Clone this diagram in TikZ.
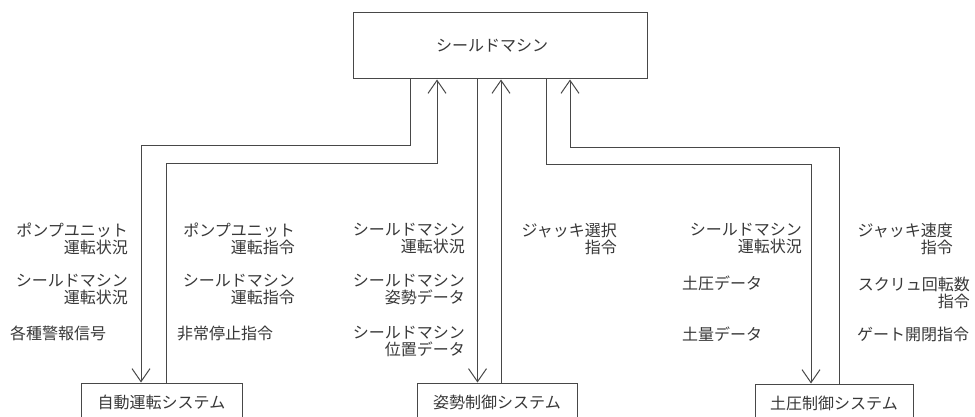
\documentclass[tikz,border=0pt]{standalone}
\usepackage{fontspec}
\newfontfamily\jp{Noto Sans CJK JP}
\usetikzlibrary{arrows.meta}
\definecolor{linec}{HTML}{484848}
\definecolor{txtc}{HTML}{383838}
\begin{document}
\begin{tikzpicture}[x=1pt,y=-1pt,
  box/.style={draw=linec, line width=1pt, inner sep=0, font=\jp\fontsize{16}{17}\selectfont, text=txtc},
  lbl/.style={inner sep=0, align=right, font=\jp\fontsize{16}{17}\selectfont, text=txtc},
  conn/.style={draw=linec, line width=1pt},
  arr/.style={conn, -{Straight Barb[length=13pt,width=18pt]}}]
\useasboundingbox (0,0) rectangle (975,417);
\clip (0,0) rectangle (975,417);
\fill[white] (0,0) rectangle (975,417);

\node[box, minimum width=294, minimum height=66] (top) at (500,46) {\hspace*{-16pt}シールドマシン};
\node[box, minimum width=161, minimum height=38] (auto) at (161.5,402) {自動運転システム};
\node[box, minimum width=160, minimum height=38] (att) at (497,402) {姿勢制御システム};
\node[box, minimum width=158, minimum height=38] (earth) at (834,403) {土圧制御システム};

% automatic operation
\coordinate (a1) at (410,146);
\coordinate (a2) at (141,146);
\draw[arr] (top.south -| a1) -- (a1) -- (a2) -- (auto.north -| a2);
\coordinate (b1) at (166,164);
\coordinate (b2) at (437,164);
\draw[arr] (auto.north -| b1) -- (b1) -- (b2) -- (top.south -| b2);
% attitude
\coordinate (c1) at (477.5,0);
\draw[arr] (top.south -| c1) -- (att.north -| c1);
\coordinate (c2) at (501,0);
\draw[arr] (att.north -| c2) -- (top.south -| c2);
% earth pressure
\coordinate (d1) at (546,165);
\coordinate (d2) at (811,165);
\draw[arr] (top.south -| d1) -- (d1) -- (d2) -- (earth.north -| d2);
\coordinate (e1) at (839,148);
\coordinate (e2) at (570,148);
\draw[arr] (earth.north -| e1) -- (e1) -- (e2) -- (top.south -| e2);

% labels column 1
\node[lbl, anchor=north east] (l11) at (128,223) {ポンプユニット\\運転状況};
\node[lbl, anchor=north east] (l12) at (128,274) {シールドマシン\\運転状況};
\node[lbl, anchor=north west] (l13) at (10,326) {各種警報信号};
% column 2
\node[lbl, anchor=north east] (l21) at (295,223) {ポンプユニット\\運転指令};
\node[lbl, anchor=north east] (l22) at (295,274) {シールドマシン\\運転指令};
\node[lbl, anchor=north west] (l23) at (177,326) {非常停止指令};
% column 3
\node[lbl, anchor=north east] (l31) at (465,223) {シールドマシン\\運転状況};
\node[lbl, anchor=north east] (l32) at (465,274) {シールドマシン\\姿勢データ};
\node[lbl, anchor=north east] (l33) at (465,326) {シールドマシン\\位置データ};
% column 4
\node[lbl, anchor=north east] (l41) at (617,223) {ジャッキ選択\\指令};
% column 5
\node[lbl, anchor=north east] (l51) at (802,223) {シールドマシン\\運転状況};
\node[lbl, anchor=north west] (l52) at (682,276) {土圧データ};
\node[lbl, anchor=north west] (l53) at (682,327) {土量データ};
% column 6
\node[lbl, anchor=north east] (l61) at (953,223) {ジャッキ速度\\指令};
\node[lbl, anchor=north east] (l62) at (970,277) {スクリュ回転数\\指令};
\node[lbl, anchor=north west] (l63) at (857,327) {ゲート開閉指令};
\end{tikzpicture}
\end{document}
